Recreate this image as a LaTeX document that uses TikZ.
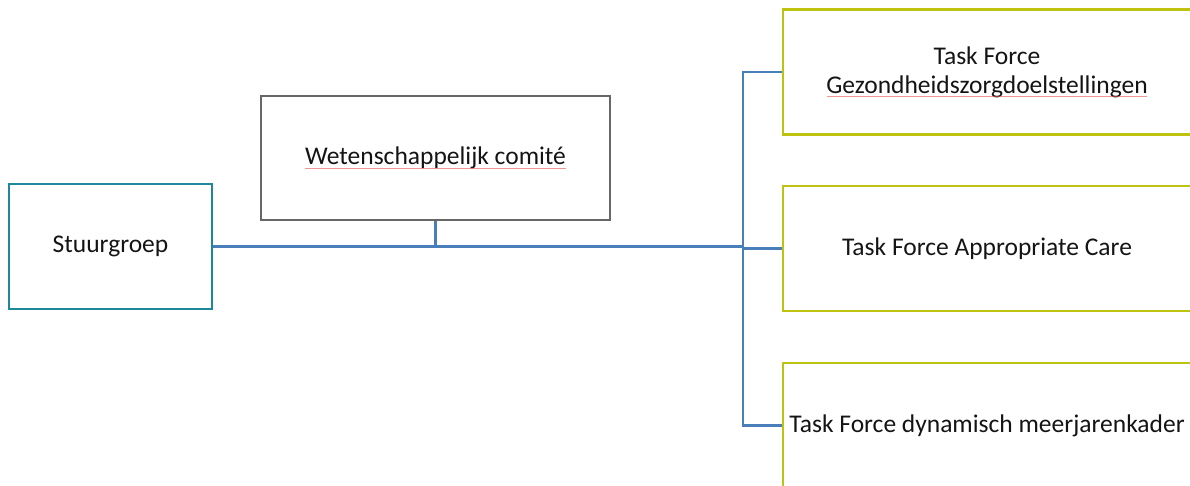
\documentclass[tikz,border=0pt]{standalone}
\usepackage{fontspec}
\setmainfont{Carlito}
\usetikzlibrary{calc}
\definecolor{tealbox}{RGB}{28,136,154}
\definecolor{graybox}{RGB}{103,103,103}
\definecolor{olivebox}{RGB}{189,195,14}
\definecolor{conn}{RGB}{74,126,187}
\definecolor{spellred}{RGB}{232,80,80}
\definecolor{txt}{RGB}{20,20,20}
\tikzset{
  box/.style={draw, rectangle, line width=2.5pt, inner sep=0pt, align=center, text=txt,
    font=\fontsize{25.5}{29}\selectfont},
  stuurbox/.style={box, draw=tealbox, minimum width=203pt, minimum height=125pt},
  wetbox/.style={box, draw=graybox, minimum width=349pt, minimum height=124pt},
  tfbox/.style={box, draw=olivebox, minimum width=408pt, minimum height=125pt},
  link/.style={draw=conn, line width=2.8pt},
  spell/.style={draw=spellred, line width=0.7pt, opacity=0.6}
}
\begin{document}
\begin{tikzpicture}[x=1pt, y=-1pt]
\useasboundingbox (0,0) rectangle (1190,486);
\node[stuurbox] (stuur) at (110.5,246.5) {Stuurgroep};
\node[wetbox] (wet) at (435.5,158) {Wetenschappelijk comité};
\node[tfbox] (tf1) at (987,72) {Task Force\\Gezondheidszorgdoelstellingen};
\node[tfbox] (tf2) at (987,248.5) {Task Force Appropriate Care};
\node[tfbox] (tf3) at (987,425.5) {Task Force dynamisch meerjarenkader};
\coordinate (j) at (743,246.5);
\draw[link] (stuur.east) -- (j);
\draw[link] (wet.south) -- (wet.south |- j);
\draw[link] (tf1.west) -- (tf1.west -| j) -- (tf3.west -| j) -- (tf3.west);
\draw[link] (tf2.west) -- (tf2.west -| j);
% spell-check marks
\draw[spell] ($(wet.center)+(-130.5,10.5)$) -- ($(wet.center)+(130.5,10.5)$);
\draw[spell] ($(tf1.center)+(-160,24)$) -- ($(tf1.center)+(160,24)$);
\end{tikzpicture}
\end{document}
